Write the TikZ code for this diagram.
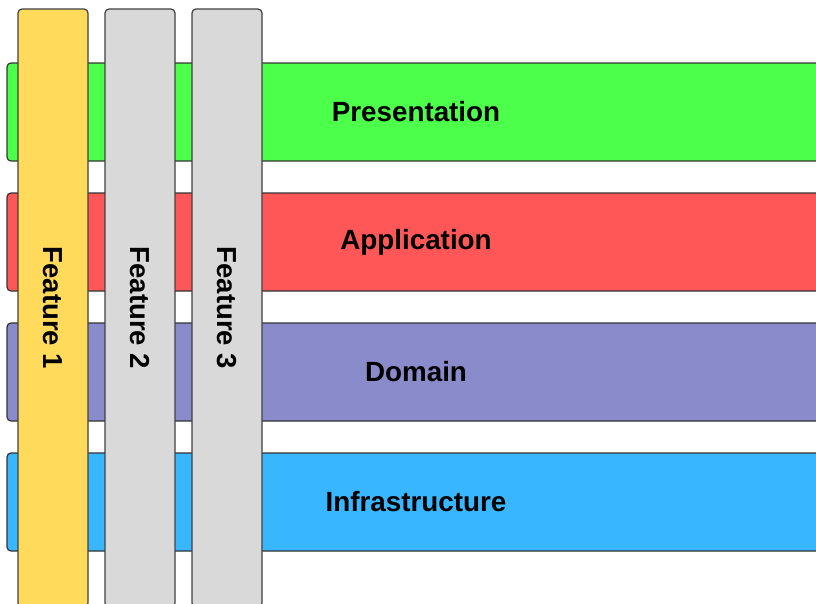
\documentclass[tikz,border=0pt]{standalone}
\usepackage{fontspec}
\setmainfont{Liberation Sans}
\usepackage{graphicx}

\definecolor{presgreen}{HTML}{4BFF4B}
\definecolor{appred}{HTML}{FF5757}
\definecolor{dompurple}{HTML}{8A8BCA}
\definecolor{infrablue}{HTML}{38B6FF}
\definecolor{featyellow}{HTML}{FFDA5B}
\definecolor{featgray}{HTML}{D9D9D9}

\tikzset{
  layerbar/.style={draw=black!80, line width=1.2pt, rounded corners=4pt,
    minimum width=818pt, minimum height=98pt, inner sep=0pt,
    font=\fontsize{27.8}{30}\selectfont\bfseries},
  featbar/.style={draw=black!75, line width=1.2pt, rounded corners=4pt,
    minimum width=70pt, minimum height=598pt, inner sep=0pt,
    font=\fontsize{27.5}{30}\selectfont\bfseries}
}

\begin{document}
\begin{tikzpicture}[x=1pt,y=-1pt]
\useasboundingbox (0,0) rectangle (816,603);

% Layers
\foreach \n/\y/\lab/\col in {pres/112/Presentation/presgreen,
    app/242/Application/appred, dom/372/Domain/dompurple,
    infra/502/Infrastructure/infrablue} {
    \node[layerbar, fill=\col] (\n) at (416,\y) {\lab};
}

% Features (vertical slices)
\node[featbar, fill=featyellow] (feat1) at (53,308) {\rotatebox{-90}{Feature 1}};
\node[featbar, fill=featgray] (feat2) at (140,308) {\rotatebox{-90}{Feature 2}};
\node[featbar, fill=featgray] (feat3) at (227,308) {\rotatebox{-90}{Feature 3}};
\end{tikzpicture}
\end{document}
